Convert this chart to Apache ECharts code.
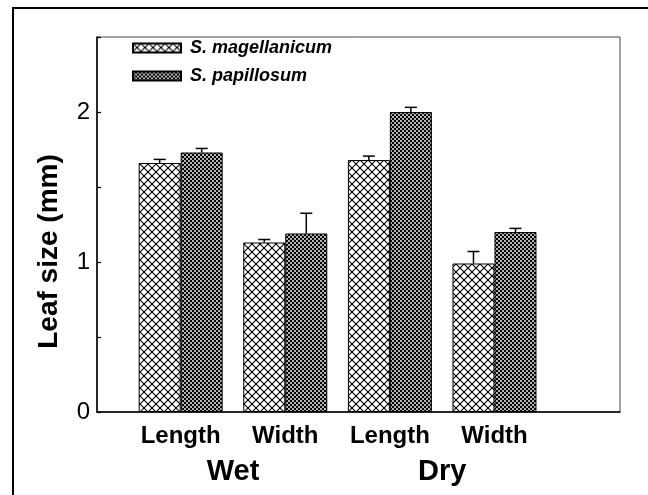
<!DOCTYPE html>
<html>
<head>
<meta charset="UTF-8">
<title>Leaf size</title>
<script src="https://cdn.jsdelivr.net/npm/echarts@6/dist/echarts.min.js"></script>
<style>
  html, body { margin: 0; padding: 0; background: #fff; }
  #chart { width: 648px; height: 495px; }
</style>
</head>
<body>
<div id="chart"></div>
<script type="text/javascript">
	// data
	var groupPos = [1, 2, 3, 4];
	var subLabels = ['Length', 'Width', 'Length', 'Width'];
	var condPos = [1.5, 3.5];
	var condLabels = ['Wet', 'Dry'];
	var seriesNames = ['S. magellanicum', 'S. papillosum'];
	var magValues = [1.66, 1.13, 1.68, 0.99];
	var magErr = [0.024, 0.02, 0.026, 0.08];
	var papValues = [1.73, 1.19, 2.00, 1.20];
	var papErr = [0.027, 0.135, 0.031, 0.024];
	var yTicks = [0, 1, 2];

	var FONT = '"Liberation Sans", Arial, sans-serif';
	var BAR_W = 42;

	// hatch fills
	function crossHatch() {
		var c = document.createElement('canvas');
		c.width = 8; c.height = 8;
		var g = c.getContext('2d');
		g.fillStyle = '#fff';
		g.fillRect(0, 0, 8, 8);
		g.strokeStyle = '#000';
		g.lineWidth = 1.1;
		for (var k = -8; k <= 8; k += 8) {
			g.beginPath(); g.moveTo(k - 1, -1); g.lineTo(k + 9, 9); g.stroke();
			g.beginPath(); g.moveTo(k - 1, 9); g.lineTo(k + 9, -1); g.stroke();
		}
		return c;
	}
	function checker() {
		var c = document.createElement('canvas');
		c.width = 4; c.height = 4;
		var g = c.getContext('2d');
		g.fillStyle = '#000';
		g.fillRect(0, 0, 4, 4);
		g.fillStyle = '#b4b4b4';
		g.fillRect(0, 0, 2, 2);
		g.fillRect(2, 2, 2, 2);
		return c;
	}

	function pairs(vals) {
		return vals.map(function (v, i) { return [groupPos[i], v]; });
	}
	function errData(vals, errs, side) {
		return vals.map(function (v, i) { return [groupPos[i], v, errs[i], side]; });
	}

	var chart = echarts.init(document.getElementById('chart'));

	var option = {
		animation: false,
		backgroundColor: '#fff',
		textStyle: { fontFamily: FONT, color: '#000' },
		graphic: [{
			type: 'rect',
			shape: { x: 13, y: 8, width: 660, height: 520 },
			style: { fill: 'none', stroke: '#000', lineWidth: 2 },
			silent: true
		}],
		grid: {
			left: 97, top: 37, right: 28, bottom: 83,
			show: true, borderColor: '#444', borderWidth: 1
		},
		legend: {
			orient: 'vertical',
			left: 127, top: 34,
			itemWidth: 48, itemHeight: 9, itemGap: 10,
			icon: 'rect',
			data: seriesNames,
			textStyle: {
				fontFamily: FONT, fontSize: 18, fontWeight: 'bold',
				fontStyle: 'italic', color: '#000', padding: [0, 0, 0, 4]
			}
		},
		xAxis: [{
			type: 'value',
			min: 0.2, max: 5.2,
			splitLine: { show: false },
			axisLine: { show: true, lineStyle: { color: '#000', width: 1.5 } },
			axisTick: { show: false },
			axisLabel: {
				customValues: groupPos,
				margin: 12,
				fontFamily: FONT, fontSize: 24, fontWeight: 'bold', color: '#000',
				formatter: function (v) {
					var i = groupPos.indexOf(Math.round(v));
					return i < 0 ? '' : subLabels[i];
				}
			}
		}, {
			type: 'value',
			position: 'bottom',
			min: 0.2, max: 5.2,
			splitLine: { show: false },
			axisLine: { show: false },
			axisTick: { show: false },
			axisLabel: {
				customValues: condPos,
				margin: 45,
				fontFamily: FONT, fontSize: 29, fontWeight: 'bold', color: '#000',
				formatter: function (v) {
					var i = condPos.indexOf(v);
					return i < 0 ? '' : condLabels[i];
				}
			}
		}],
		yAxis: {
			type: 'value',
			min: 0, max: 2.5, interval: 0.5,
			name: 'Leaf size (mm)',
			nameLocation: 'middle',
			nameGap: 34,
			nameTextStyle: {
				fontFamily: FONT, fontSize: 28, fontWeight: 'bold', color: '#000',
				padding: [0, 54, 0, 0]
			},
			splitLine: { show: false },
			axisLine: { show: true, lineStyle: { color: '#000', width: 1.5 } },
			axisTick: { show: true, inside: true, length: 4, lineStyle: { color: '#000', width: 1.2 } },
			axisLabel: {
				margin: 7,
				fontFamily: FONT, fontSize: 24, color: '#000',
				formatter: function (v) {
					return yTicks.indexOf(v) < 0 ? '' : String(v);
				}
			}
		},
		series: [{
			name: seriesNames[0],
			type: 'bar',
			barWidth: BAR_W,
			barGap: '0%',
			itemStyle: { color: { image: crossHatch(), repeat: 'repeat' }, borderColor: '#000', borderWidth: 1 },
			data: pairs(magValues)
		}, {
			name: seriesNames[1],
			type: 'bar',
			barWidth: BAR_W,
			barGap: '0%',
			itemStyle: { color: { image: checker(), repeat: 'repeat' }, borderColor: '#000', borderWidth: 1 },
			data: pairs(papValues)
		}, {
			type: 'custom',
			silent: true,
			z: 5,
			renderItem: function (params, api) {
				var x = api.value(0), y = api.value(1), e = api.value(2), side = api.value(3);
				var p0 = api.coord([x, y]);
				var p1 = api.coord([x, y + e]);
				var cx = p0[0] + side * BAR_W / 2;
				var st = { stroke: '#000', lineWidth: 1.5 };
				return {
					type: 'group',
					children: [
						{ type: 'line', shape: { x1: cx, y1: p0[1], x2: cx, y2: p1[1] }, style: st },
						{ type: 'line', shape: { x1: cx - 6, y1: p1[1], x2: cx + 6, y2: p1[1] }, style: st }
					]
				};
			},
			data: errData(magValues, magErr, -1).concat(errData(papValues, papErr, 1))
		}]
	};
	chart.setOption(option);
</script>
</body>
</html>
